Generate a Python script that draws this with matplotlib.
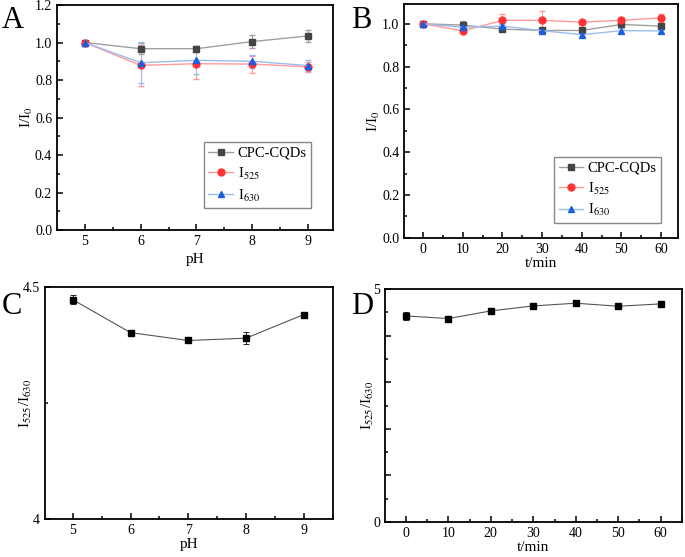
import numpy as np
import matplotlib
matplotlib.use("Agg")
import matplotlib.pyplot as plt
from matplotlib.ticker import MultipleLocator, FixedLocator, FormatStrFormatter, FuncFormatter

plt.rcParams['font.family'] = ['Liberation Serif', 'DejaVu Serif']
plt.rcParams['mathtext.fontset'] = 'stix'

# panel A: pH stability
ph = [5, 6, 7, 8, 9]
a_cpc = [1.0, 0.967, 0.967, 1.005, 1.035]
a_cpc_err = [0.005, 0.03, 0.015, 0.035, 0.03]
a_525 = [1.0, 0.878, 0.887, 0.885, 0.87]
a_525_err = [0.005, 0.11, 0.08, 0.045, 0.025]
a_630 = [1.0, 0.892, 0.905, 0.9, 0.877]
a_630_err = [0.005, 0.11, 0.075, 0.035, 0.03]

# panel B: time stability
t = [0, 10, 20, 30, 40, 50, 60]
b_cpc = [1.0, 0.994, 0.975, 0.969, 0.969, 0.997, 0.989]
b_cpc_err = [0.004, 0.02, 0.008, 0.008, 0.008, 0.015, 0.012]
b_525 = [1.0, 0.967, 1.016, 1.016, 1.008, 1.016, 1.028]
b_525_err = [0.004, 0.008, 0.03, 0.045, 0.006, 0.015, 0.02]
b_630 = [1.0, 0.984, 0.989, 0.968, 0.949, 0.968, 0.967]
b_630_err = [0.004, 0.01, 0.01, 0.008, 0.008, 0.012, 0.012]

# panel C / D: ratio
c_ratio = [4.473, 4.402, 4.385, 4.390, 4.441]
c_err = [0.009, 0.003, 0.005, 0.013, 0.003]
d_ratio = [4.426, 4.369, 4.534, 4.641, 4.699, 4.634, 4.684]
d_err = [0.08, 0.02, 0.02, 0.02, 0.02, 0.02, 0.02]

labels = ['CPC-CQDs', r'I$_{525}$', r'I$_{630}$']
mcolors = ['#444444', '#ff3333', '#1a5fe0']
lcolors = ['#a0a0a0', '#ff9a9a', '#9dbcee']
markers = ['s', 'o', '^']


def style(ax):
    for s in ax.spines.values():
        s.set_linewidth(1.3)
    ax.tick_params(which='both', direction='in', top=False, right=False,
                   labelsize=10, width=1.1)
    ax.tick_params(which='major', length=4)
    ax.tick_params(which='minor', length=2)


def three_series(ax, x, series, errors):
    handles = []
    for i in range(3):
        c = ax.errorbar(x, series[i], yerr=errors[i], color=lcolors[i], lw=1,
                        marker=markers[i], ms=5, mfc=mcolors[i], mec=mcolors[i],
                        ecolor=lcolors[i], elinewidth=0.8, capsize=2)
        handles.append(c[0])
    ax.legend(handles, labels, loc='lower right', fontsize=10.5,
              fancybox=False, edgecolor='#888888', framealpha=1, handlelength=1.7,
              borderpad=0.3, labelspacing=0.4, handletextpad=0.3,
              borderaxespad=0)


def ratio_plot(ax, x, y, e):
    ax.errorbar(x, y, yerr=e, color='#555555', lw=0.8, marker='s', ms=5,
                mfc='black', mec='black', ecolor='black', elinewidth=0.6,
                capsize=2, capthick=0.6)


fig = plt.figure(figsize=(6.85, 5.57), dpi=100)
axA = fig.add_axes([0.0832, 0.587, 0.403, 0.404])
axB = fig.add_axes([0.590, 0.573, 0.400, 0.420])
axC = fig.add_axes([0.0657, 0.068, 0.420, 0.4165])
axD = fig.add_axes([0.562, 0.0628, 0.4336, 0.418])

# A
three_series(axA, ph, [a_cpc, a_525, a_630], [a_cpc_err, a_525_err, a_630_err])
axA.get_legend().set_bbox_to_anchor((0.92, 0.098), transform=axA.transAxes)
axA.set_xlim(4.5, 9.45)
axA.set_ylim(0, 1.2)
axA.xaxis.set_major_locator(MultipleLocator(1))
axA.xaxis.set_minor_locator(MultipleLocator(0.5))
axA.yaxis.set_major_locator(MultipleLocator(0.2))
axA.yaxis.set_minor_locator(MultipleLocator(0.1))
axA.yaxis.set_major_formatter(FormatStrFormatter('%.1f'))
axA.set_xlabel('pH', fontsize=11)
axA.set_ylabel(r'I/I$_0$', fontsize=11, labelpad=0)
style(axA)

# B
three_series(axB, t, [b_cpc, b_525, b_630], [b_cpc_err, b_525_err, b_630_err])
axB.get_legend().set_bbox_to_anchor((0.938, 0.064), transform=axB.transAxes)
axB.set_xlim(-4.8, 64.3)
axB.set_ylim(0, 1.093)
axB.xaxis.set_major_locator(MultipleLocator(10))
axB.xaxis.set_minor_locator(MultipleLocator(5))
axB.yaxis.set_major_locator(MultipleLocator(0.2))
axB.yaxis.set_minor_locator(MultipleLocator(0.1))
axB.yaxis.set_major_formatter(FormatStrFormatter('%.1f'))
axB.set_xlabel('t/min', fontsize=11, labelpad=1)
axB.set_ylabel(r'I/I$_0$', fontsize=11, labelpad=0)
style(axB)

# C
ratio_plot(axC, ph, c_ratio, c_err)
axC.set_xlim(4.52, 9.5)
axC.set_ylim(4, 4.5)
axC.xaxis.set_major_locator(MultipleLocator(1))
axC.xaxis.set_minor_locator(MultipleLocator(0.5))
axC.yaxis.set_major_locator(FixedLocator([4, 4.5]))
axC.yaxis.set_minor_locator(FixedLocator([4.25]))
axC.set_yticklabels(['4', '4.5'])
axC.set_xlabel('pH', fontsize=11, labelpad=1)
axC.set_ylabel(r'I$_{525}$/I$_{630}$', fontsize=11, labelpad=-8)
style(axC)

# D
ratio_plot(axD, t, d_ratio, d_err)
axD.set_xlim(-4.9, 65)
axD.set_ylim(0, 5)
axD.xaxis.set_major_locator(MultipleLocator(10))
axD.xaxis.set_minor_locator(MultipleLocator(5))
axD.yaxis.set_major_locator(MultipleLocator(1))
axD.yaxis.set_minor_locator(MultipleLocator(0.5))
axD.yaxis.set_major_formatter(FuncFormatter(
    lambda v, p: '%d' % v if v in (0, 5) else ''))
axD.set_xlabel('t/min', fontsize=11, labelpad=1)
axD.set_ylabel(r'I$_{525}$/I$_{630}$', fontsize=11, labelpad=-2)
style(axD)

# panel letters
for ch, x, y in [('A', 0.002, 0.99), ('B', 0.513, 0.99), ('C', 0.002, 0.475), ('D', 0.513, 0.475)]:
    fig.text(x, y, ch, fontsize=22, ha='left', va='top')

fig.savefig('out.png', dpi=100)
